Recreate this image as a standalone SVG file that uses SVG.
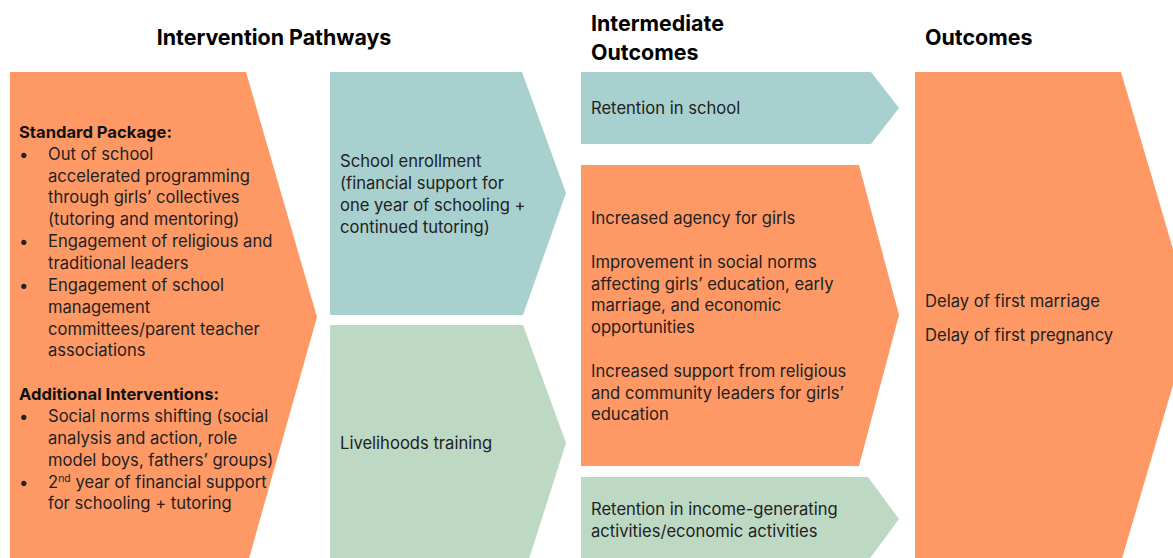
<svg xmlns="http://www.w3.org/2000/svg" width="1173" height="558" viewBox="0 0 1173 558">
<style>
.orange{fill:#FE9966}
.teal{fill:#A8D0CE}
.green{fill:#BDD9C4}
text{font-family:Inter,"Liberation Sans",sans-serif;font-size:16.6px;fill:#222}
.h{font-weight:bold;font-size:21.4px;fill:#000}
.b{font-weight:bold;fill:#111}
</style>
<rect width="1173" height="558" fill="#fff"/>
<g id="header-intervention"><text class="h" x="274" y="45" text-anchor="middle">Intervention Pathways</text></g>
<g id="header-intermediate"><text class="h" x="591" y="31">Intermediate</text><text class="h" x="591" y="60">Outcomes</text></g>
<g id="header-outcomes"><text class="h" x="925" y="45">Outcomes</text></g>

<g id="interventions">
<polygon class="orange" points="10,72 246,72 317,317 248,562 10,562"/>
<text class="b" x="19" y="138">Standard Package:</text>
<text x="19" y="160">•</text><text x="48" y="160">Out of school</text>
<text x="48" y="182">accelerated programming</text>
<text x="48" y="203">through girls’ collectives</text>
<text x="48" y="225">(tutoring and mentoring)</text>
<text x="19" y="247">•</text><text x="48" y="247">Engagement of religious and</text>
<text x="48" y="269">traditional leaders</text>
<text x="19" y="291">•</text><text x="48" y="291">Engagement of school</text>
<text x="48" y="313">management</text>
<text x="48" y="335">committees/parent teacher</text>
<text x="48" y="356">associations</text>
<text class="b" x="19" y="400">Additional Interventions:</text>
<text x="19" y="422">•</text><text x="48" y="422">Social norms shifting (social</text>
<text x="48" y="444">analysis and action, role</text>
<text x="48" y="466">model boys, fathers’ groups)</text>
<text x="19" y="488">•</text><text x="48" y="488">2<tspan font-size="10.5" dy="-6.5">nd</tspan><tspan dy="6.5"> year of financial support</tspan></text>
<text x="48" y="509">for schooling + tutoring</text>
</g>

<g id="school-enrollment">
<polygon class="teal" points="330,72 522,72 566,193 523,315 330,315"/>
<text x="340" y="167">School enrollment</text>
<text x="340" y="189">(financial support for</text>
<text x="340" y="211">one year of schooling +</text>
<text x="340" y="233">continued tutoring)</text>
</g>

<g id="livelihoods-training">
<polygon class="green" points="330,325 523,325 566,443 528,562 330,562"/>
<text x="340" y="449">Livelihoods training</text>
</g>

<g id="retention-school">
<polygon class="teal" points="581,72 871,72 899,108 871,144 581,144"/>
<text x="591" y="114">Retention in school</text>
</g>

<g id="agency-norms">
<polygon class="orange" points="581,165 859,165 899,315 859,466 581,466"/>
<text x="591" y="224">Increased agency for girls</text>
<text x="591" y="268">Improvement in social norms</text>
<text x="591" y="290">affecting girls’ education, early</text>
<text x="591" y="311">marriage, and economic</text>
<text x="591" y="333">opportunities</text>
<text x="591" y="377">Increased support from religious</text>
<text x="591" y="399">and community leaders for girls’</text>
<text x="591" y="420">education</text>
</g>

<g id="retention-income">
<polygon class="green" points="581,477 868,477 899,519 868,561 581,561"/>
<text x="591" y="515">Retention in income-generating</text>
<text x="591" y="537">activities/economic activities</text>
</g>

<g id="outcomes">
<polygon class="orange" points="915,72 1121,72 1193,317 1121,562 915,562"/>
<text x="925" y="307">Delay of first marriage</text>
<text x="925" y="341">Delay of first pregnancy</text>
</g>

<g id="connectors"></g>
</svg>
